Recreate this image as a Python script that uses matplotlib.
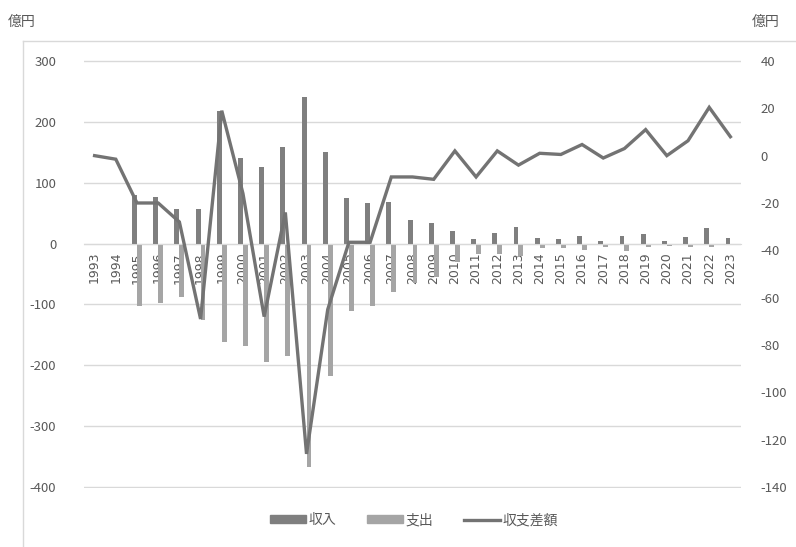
import matplotlib
matplotlib.use("Agg")
import matplotlib.pyplot as plt
from matplotlib.lines import Line2D
from matplotlib.patches import Patch

plt.rcParams['font.family'] = ['Noto Sans CJK JP', 'DejaVu Sans']
plt.rcParams['axes.unicode_minus'] = False

# data (億円)
years = [str(y) for y in range(1993, 2024)]
revenue = [0, 0, 80, 77, 56, 57, 218, 141, 126, 158, 241, 150,
           75, 66, 69, 39, 34, 21, 8, 18, 27, 9, 7, 13, 5, 13, 15, 5, 10, 25, 9]
expense = [0, -2, -103, -97, -88, -125, -162, -168, -194, -184, -367, -217,
           -111, -103, -79, -65, -55, -30, -17, -17, -20, -8, -8, -10, -6, -13, -6, -4, -5, -6, -3]
balance = [0, -1.5, -20, -20, -28, -69, 19, -16, -68, -24, -126, -65,
           -36.6, -36.6, -9, -9, -10, 2, -9, 2, -4, 1, 0.5, 4.7, -1, 3, 11, 0, 6.3, 20.4, 8]

c_rev = '#7f7f7f'
c_exp = '#a5a5a5'
c_line = '#737373'
c_text = '#595959'
c_grid = '#d9d9d9'

fig = plt.figure(figsize=(7.96, 5.47), dpi=100)
W, H = 796, 547
ax = fig.add_axes([84 / W, 1 - 488 / H, (741 - 84) / W, (488 - 60) / H])

x = list(range(len(years)))
bw = 0.23
ax.bar([i - bw / 2 for i in x], revenue, width=bw, color=c_rev, zorder=1)
ax.bar([i + bw / 2 for i in x], expense, width=bw, color=c_exp, zorder=1)

# small margin so the 300 / -400 grid lines are not clipped
ax.set_ylim(-401.6, 301.6)
ax.set_xlim(-0.5, len(years) - 0.5)
ax.set_yticks(range(-400, 301, 100))
ax.yaxis.grid(True, color=c_grid, linewidth=1)
ax.set_axisbelow(True)
for s in ['left', 'right', 'top']:
    ax.spines[s].set_visible(False)
ax.spines['bottom'].set_position(('data', 0))
ax.spines['bottom'].set_color(c_grid)
ax.set_xticks(x)
ax.set_xticklabels(years, rotation=90, fontsize=9, color=c_text,
                   family=['DejaVu Sans'])
ax.tick_params(axis='x', length=0, pad=6)
ax.tick_params(axis='y', length=0, pad=20, labelsize=9.5, labelcolor=c_text)

ax2 = ax.twinx()
ax2.plot(x, balance, color=c_line, linewidth=2.4, solid_joinstyle='miter')
ax2.set_ylim(-140.41, 40.41)
ax2.set_yticks(range(-140, 41, 20))
for s in ax2.spines.values():
    s.set_visible(False)
ax2.tick_params(axis='y', length=0, pad=14, labelsize=9.5, labelcolor=c_text)

fig.text(8 / W, 1 - 22 / H, '億円', fontsize=10, color=c_text, va='center')
fig.text(752 / W, 1 - 22 / H, '億円', fontsize=10, color=c_text, va='center')

# outer frame
fig.add_artist(Line2D([22.5 / W, 22.5 / W], [0, 1 - 40.5 / H], color=c_grid,
                      linewidth=1, transform=fig.transFigure))
fig.add_artist(Line2D([22.5 / W, 1], [1 - 40.5 / H, 1 - 40.5 / H], color=c_grid,
                      linewidth=1, transform=fig.transFigure))

handles = [Patch(color=c_rev), Patch(color=c_exp),
           Line2D([0], [0], color=c_line, linewidth=2.4)]
labels = ['収入', '支出', '収支差額']
fig.legend(handles, labels, loc='center', bbox_to_anchor=(414 / W, 1 - 520 / H),
           ncol=3, frameon=False, fontsize=10, labelcolor=c_text,
           handlelength=2.6, handleheight=0.5, handletextpad=0.2, columnspacing=2.2)

fig.savefig('out.png', dpi=100, facecolor='white')
